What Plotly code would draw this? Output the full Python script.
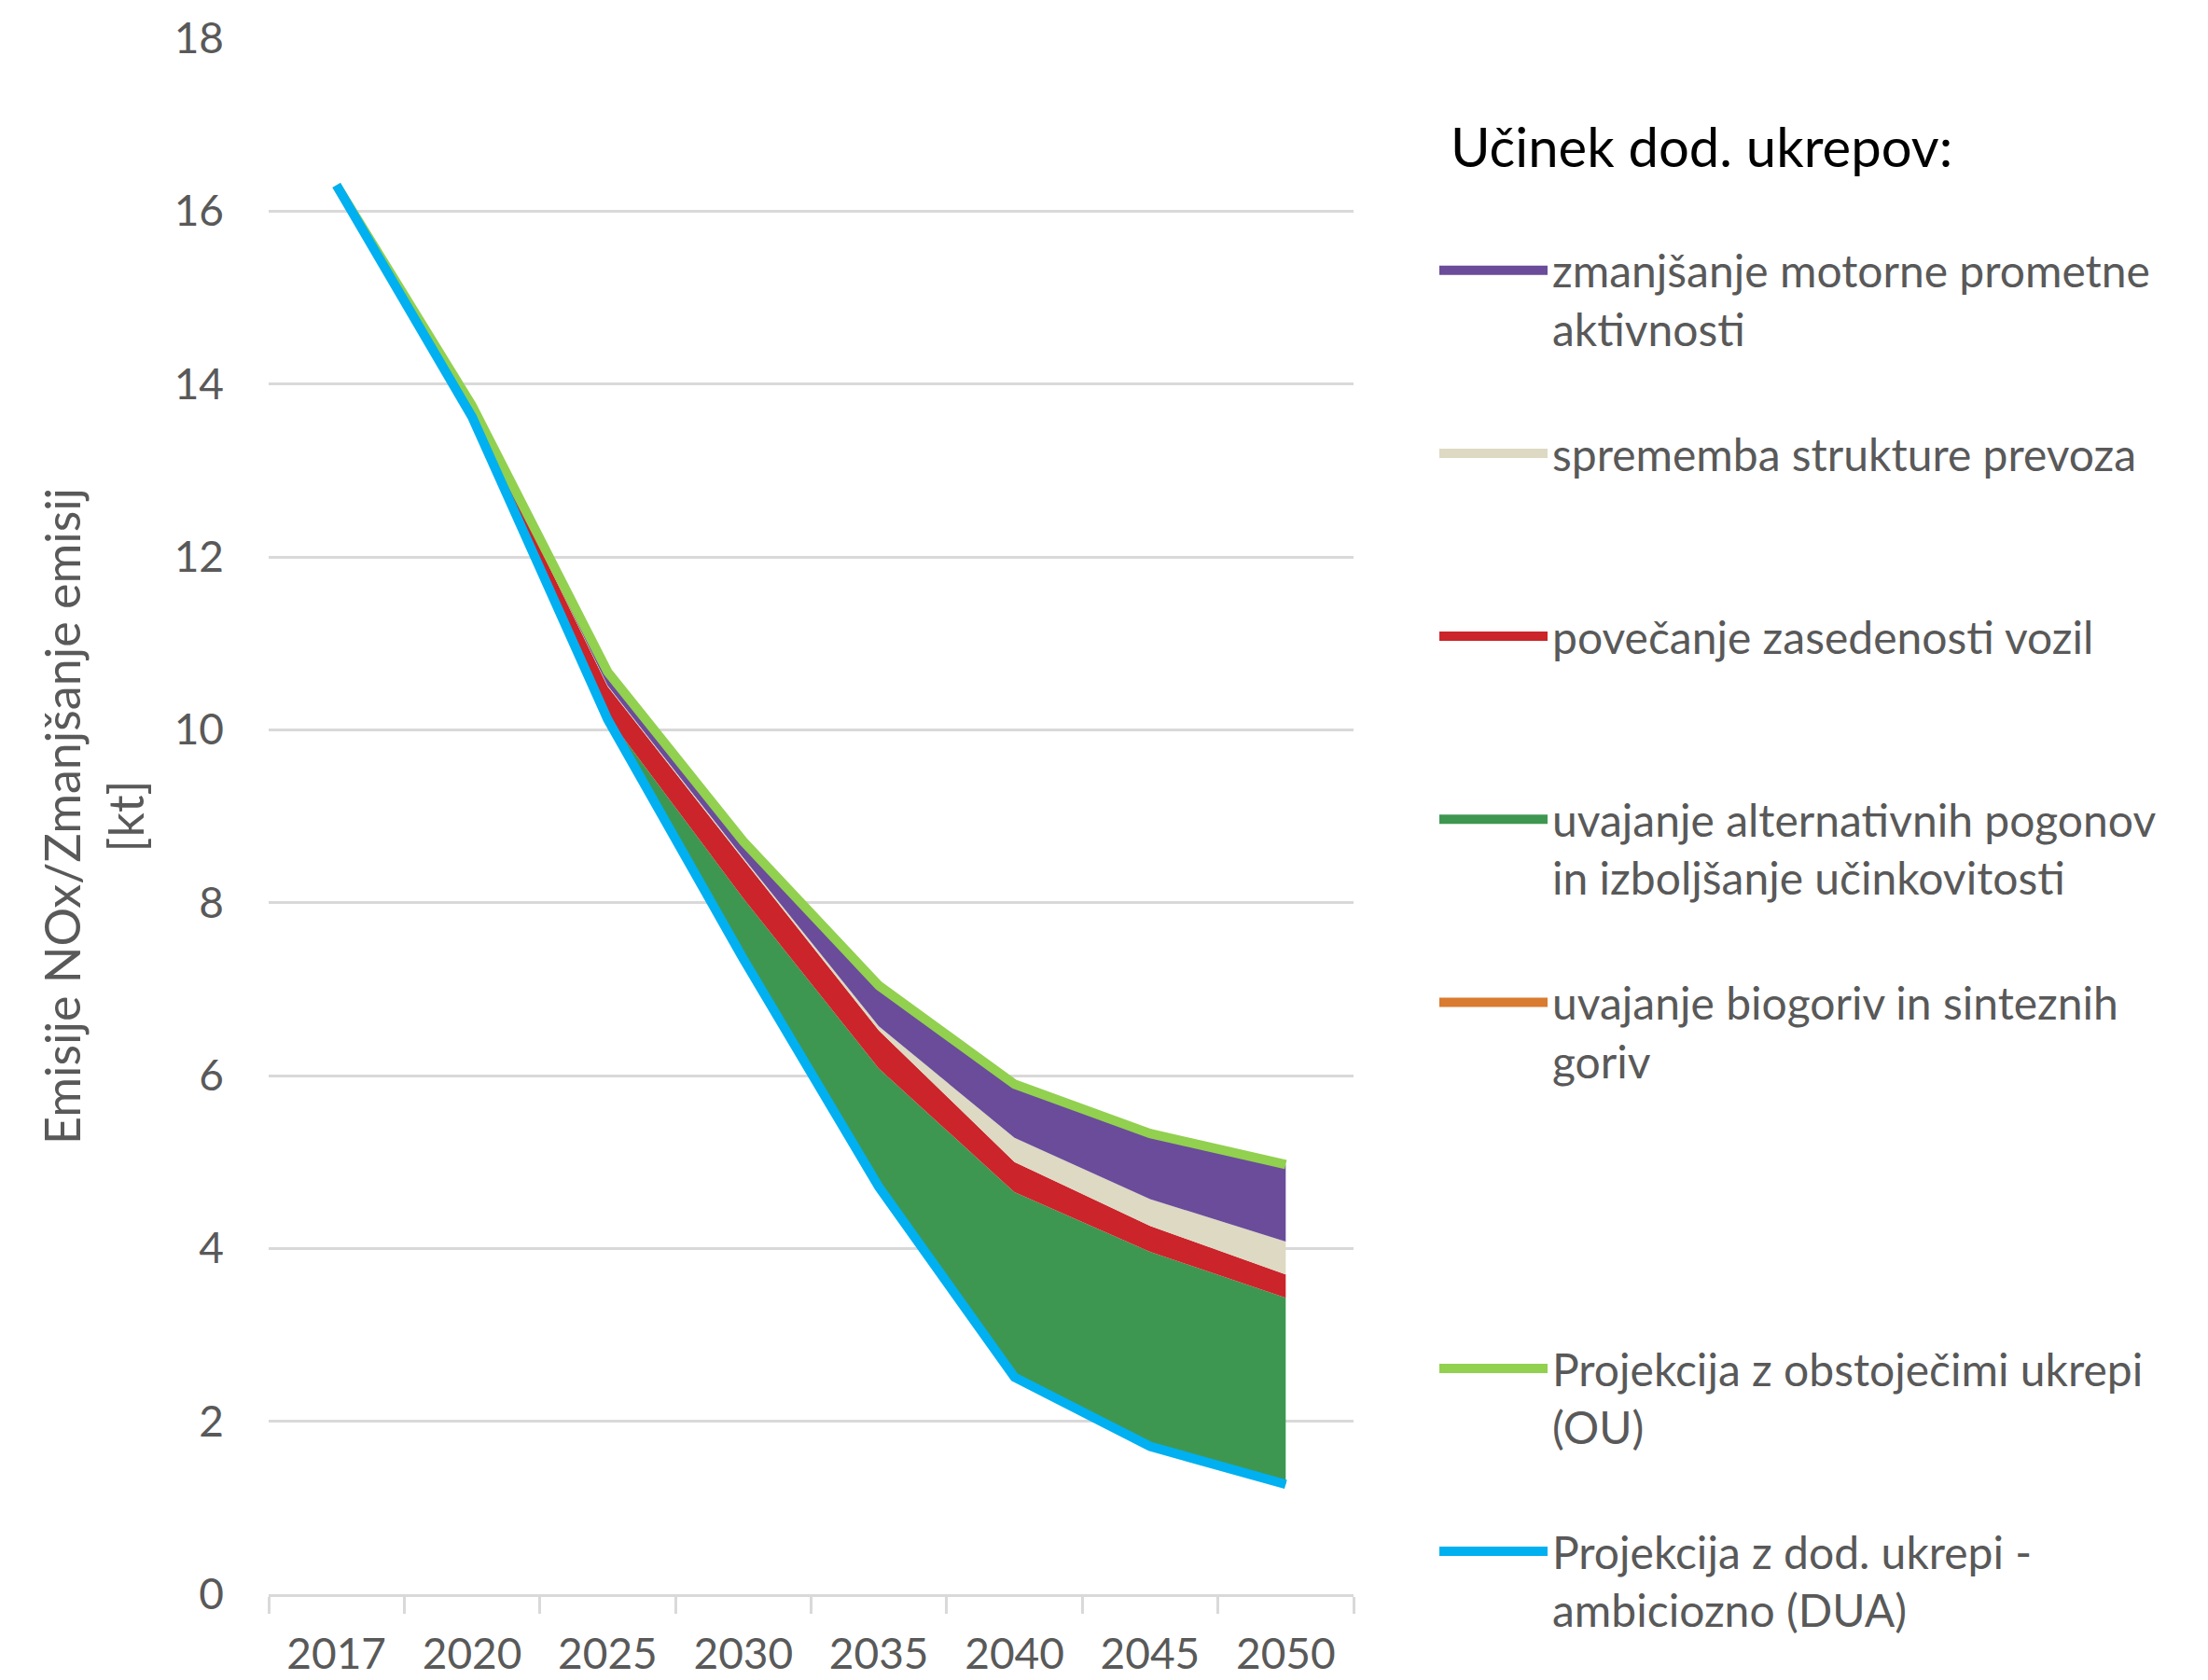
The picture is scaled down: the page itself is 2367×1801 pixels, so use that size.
import plotly.graph_objects as go

years = ["2017", "2020", "2025", "2030", "2035", "2040", "2045", "2050"]

# Projections (kt)
ou = [16.3, 13.75, 10.67, 8.71, 7.04, 5.90, 5.33, 4.97]    # Projekcija z obstoječimi ukrepi
dua = [16.3, 13.62, 10.12, 7.35, 4.71, 2.51, 1.71, 1.27]   # Projekcija z dod. ukrepi - ambiciozno

# Effects of additional measures (stacked on top of DUA)
biogoriv = [0, 0, 0, 0, 0, 0, 0, 0]
alternativni = [0, 0.03, 0.03, 0.70, 1.37, 2.14, 2.25, 2.16]
zasedenost = [0, 0.07, 0.35, 0.45, 0.44, 0.35, 0.30, 0.27]
struktura = [0, 0.0, 0.01, 0.02, 0.05, 0.28, 0.31, 0.38]
aktivnost = [0, 0.03, 0.16, 0.19, 0.47, 0.62, 0.76, 0.89]

names = {
    "aktivnost": "zmanjšanje motorne prometne<br>aktivnosti<br> ",
    "struktura": "sprememba strukture prevoza<br> <br> ",
    "zasedenost": "povečanje zasedenosti vozil<br> <br> ",
    "alternativni": "uvajanje alternativnih pogonov<br>in izboljšanje učinkovitosti<br> ",
    "biogoriv": "uvajanje biogoriv in sinteznih<br>goriv<br> ",
    "ou": "Projekcija z obstoječimi ukrepi<br>(OU)<br> ",
    "dua": "Projekcija z dod. ukrepi -<br>ambiciozno (DUA)<br> ",
}

FONT = "Lato"
GRAY = "#595959"
GRID = "#D9D9D9"

fig = go.Figure()

# invisible base of the stack (DUA)
fig.add_trace(go.Scatter(
    x=years, y=dua, stackgroup="s", fill="none", mode="lines",
    line=dict(width=0, color="rgba(0,0,0,0)"), name=" <br> <br> ",
    legendrank=6, legendgroup="g6", hoverinfo="skip"))

areas = [
    ("biogoriv", biogoriv, "#D97B30", 5),
    ("alternativni", alternativni, "#3E9751", 4),
    ("zasedenost", zasedenost, "#CB242A", 3),
    ("struktura", struktura, "#DDD9C3", 2),
    ("aktivnost", aktivnost, "#6A4C9A", 1),
]
for key, vals, col, rank in areas:
    fig.add_trace(go.Scatter(
        x=years, y=vals, stackgroup="s", fill="tonexty", mode="lines",
        line=dict(width=0, color=col), fillcolor=col,
        name=names[key], showlegend=False, legendgroup="g%d" % rank))
    # legend swatch (no data drawn)
    fig.add_trace(go.Scatter(
        x=[None], y=[None], mode="lines", line=dict(width=26, color=col),
        name=names[key], legendrank=rank, legendgroup="g%d" % rank,
        hoverinfo="skip"))

fig.add_trace(go.Scatter(
    x=years, y=ou, mode="lines", line=dict(color="#92D050", width=10),
    name=names["ou"], legendrank=7, legendgroup="g7"))
fig.add_trace(go.Scatter(
    x=years, y=dua, mode="lines", line=dict(color="#00B0F0", width=10),
    name=names["dua"], legendrank=8, legendgroup="g8"))

fig.add_annotation(
    text="Učinek dod. ukrepov:", xref="paper", yref="paper",
    x=1.088, y=0.931, xanchor="left", yanchor="middle", showarrow=False,
    font=dict(family=FONT, size=58, color="#000000"))

fig.update_layout(
    width=2367, height=1801,
    margin=dict(l=280, r=924, t=33, b=100, autoexpand=False),
    paper_bgcolor="white", plot_bgcolor="white",
    font=dict(family=FONT, color=GRAY, size=46),
    showlegend=True,
    legend=dict(
        x=1.0748, y=0.8735, xanchor="left", yanchor="top",
        traceorder="grouped", tracegroupgap=6, valign="top", itemwidth=116,
        font=dict(family=FONT, size=48, color=GRAY),
        bgcolor="rgba(0,0,0,0)",
    ),
    xaxis=dict(
        type="category", showgrid=False, showline=True, linecolor=GRID,
        linewidth=3, ticks="outside", tickson="boundaries", ticklen=18,
        tickcolor=GRID, tickwidth=3, tickfont=dict(size=46, color=GRAY),
        range=[-0.5, 7.5], ticklabelstandoff=22, automargin=False,
    ),
    yaxis=dict(
        range=[0, 18], dtick=2, showgrid=True, gridcolor=GRID, gridwidth=3,
        zeroline=False, showline=False, ticks="",
        tickfont=dict(size=46, color=GRAY), ticklabelstandoff=47,
        automargin=False,
        title=dict(text="Emisije NOx/Zmanjšanje emisij<br>[kt]",
                   font=dict(size=52, color=GRAY), standoff=15),
    ),
)

fig.write_html("out.html")
